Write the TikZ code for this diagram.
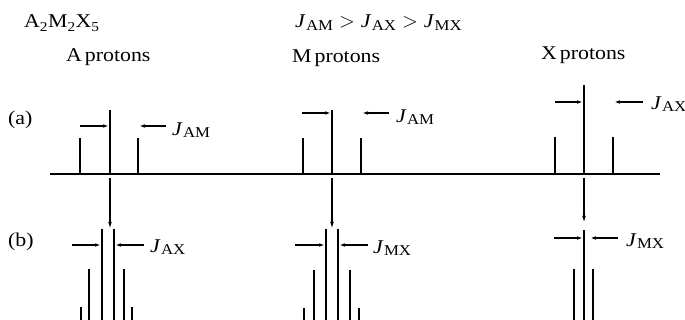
\documentclass[tikz,border=0pt]{standalone}
\usepackage{fontspec}
\setmainfont[FakeStretch=1.12]{Liberation Serif}
\usetikzlibrary{arrows.meta}
\newcommand{\Jsub}[1]{\textit{J}\kern0.3pt\raisebox{-0.3ex}{\fontsize{15}{16}\selectfont #1}}
\newcommand{\gtsym}{\kern6pt$>$\kern6pt}
\tikzset{
  lbl/.style={inner sep=0pt, anchor=base west, font=\fontsize{19.5}{22}\selectfont},
  jl/.style={inner sep=0pt, anchor=west, font=\fontsize{19.5}{22}\selectfont},
  peak/.style={line width=1.8pt},
  base/.style={line width=2pt},
  jarrow/.style={line width=1.4pt, -{Latex[length=6pt,width=3.6pt]}},
  darrow/.style={line width=1.3pt, -{Latex[length=7pt,width=3.6pt]}},
}
\begin{document}
\begin{tikzpicture}[x=1pt,y=-1pt]
\useasboundingbox (0,0) rectangle (685,320);
\clip (0,0) rectangle (685,320);
% titles
\node[lbl] (formula) at (24,28) {A\textsubscript{2}M\textsubscript{2}X\textsubscript{5}};
\node[lbl] (order) at (295,28) {\Jsub{AM}\gtsym\Jsub{AX}\gtsym\Jsub{MX}};
\node[lbl] (tA) at (66,62) {A\kern3pt protons};
\node[lbl] (tM) at (292,63) {M\kern3pt protons};
\node[lbl] (tX) at (541,60) {X\kern3pt protons};
\node[lbl] (la) at (8,125) {(a)};
\node[lbl] (lb) at (8,247) {(b)};
% baseline
\coordinate (b0) at (50,174); \coordinate (b1) at (660,174);
\draw[base] (b0) -- (b1);
% ---------- A ----------
\draw[peak] (110,174) -- (110,110);
\draw[peak] (80,174) -- (80,138);
\draw[peak] (138,174) -- (138,138);
\coordinate (aAl) at (80,126); \coordinate (aAlt) at (109,126);
\coordinate (aAr) at (166,126); \coordinate (aArt) at (139,126);
\draw[jarrow] (aAl) -- (aAlt);
\draw[jarrow] (aAr) -- (aArt);
\node[jl] (jA1) at (172,130) {\Jsub{AM}};
\coordinate (dA0) at (110,178); \coordinate (dA1) at (110,229);
\draw[darrow] (dA0) -- (dA1);
\foreach \x/\t in {102/229,114/229,89/269,124/269,81/307,132/307}
  \draw[peak] (\x,\t) -- (\x,330);
\coordinate (bAl) at (72,245); \coordinate (bAlt) at (101,245);
\coordinate (bAr) at (144,245); \coordinate (bArt) at (115,245);
\draw[jarrow] (bAl) -- (bAlt);
\draw[jarrow] (bAr) -- (bArt);
\node[jl] (jA2) at (150,247) {\Jsub{AX}};
% ---------- M ----------
\draw[peak] (332,174) -- (332,110);
\draw[peak] (303,174) -- (303,138);
\draw[peak] (361,174) -- (361,138);
\coordinate (aMl) at (302,113); \coordinate (aMlt) at (331,113);
\coordinate (aMr) at (389,113); \coordinate (aMrt) at (362,113);
\draw[jarrow] (aMl) -- (aMlt);
\draw[jarrow] (aMr) -- (aMrt);
\node[jl] (jM1) at (396,117) {\Jsub{AM}};
\coordinate (dM0) at (332,178); \coordinate (dM1) at (332,229);
\draw[darrow] (dM0) -- (dM1);
\foreach \x/\t in {326/229,338/229,314/270,350/270,304/308,359/308}
  \draw[peak] (\x,\t) -- (\x,330);
\coordinate (bMl) at (295,245); \coordinate (bMlt) at (325,245);
\coordinate (bMr) at (368,245); \coordinate (bMrt) at (339,245);
\draw[jarrow] (bMl) -- (bMlt);
\draw[jarrow] (bMr) -- (bMrt);
\node[jl] (jM2) at (373,248) {\Jsub{MX}};
% ---------- X ----------
\draw[peak] (584,174) -- (584,85);
\draw[peak] (555,174) -- (555,137);
\draw[peak] (613,174) -- (613,137);
\coordinate (aXl) at (555,102); \coordinate (aXlt) at (583,102);
\coordinate (aXr) at (643,102); \coordinate (aXrt) at (614,102);
\draw[jarrow] (aXl) -- (aXlt);
\draw[jarrow] (aXr) -- (aXrt);
\node[jl] (jX1) at (651,104) {\Jsub{AX}};
\coordinate (dX0) at (584,178); \coordinate (dX1) at (584,223);
\draw[darrow] (dX0) -- (dX1);
\foreach \x/\t in {584/230,574/269,593/269}
  \draw[peak] (\x,\t) -- (\x,330);
\coordinate (bXl) at (554,238); \coordinate (bXlt) at (583,238);
\coordinate (bXr) at (618,238); \coordinate (bXrt) at (590,238);
\draw[jarrow] (bXl) -- (bXlt);
\draw[jarrow] (bXr) -- (bXrt);
\node[jl] (jX2) at (626,241) {\Jsub{MX}};
\end{tikzpicture}
\end{document}
